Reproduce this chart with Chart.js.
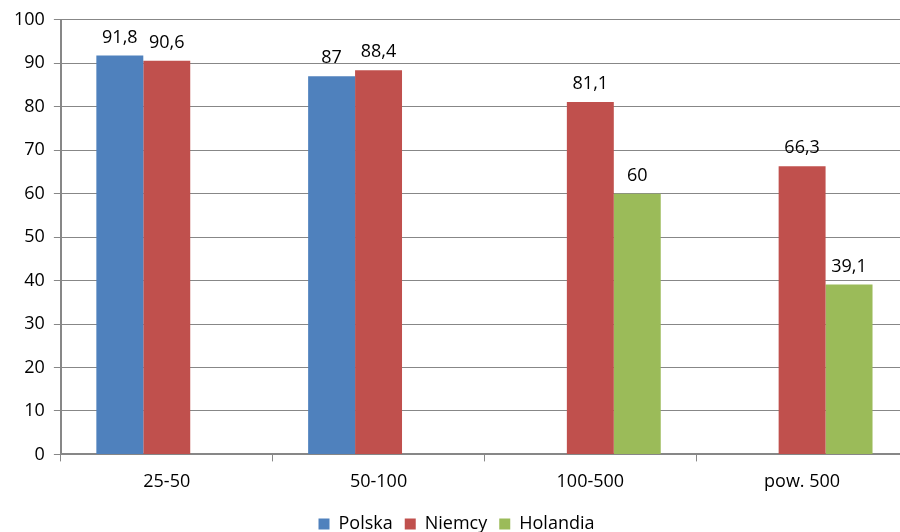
<!DOCTYPE html>
<html>
<head>
<meta charset="utf-8">
<script src="https://cdn.jsdelivr.net/npm/chart.js@4/dist/chart.umd.min.js"></script>
<style>
  html, body { margin: 0; padding: 0; background: #fff; overflow: hidden; }
  #wrap { width: 908px; height: 532px; }
</style>
</head>
<body>
<div id="wrap"><canvas id="chart"></canvas></div>
<script>
// Data
const categories = ["25-50", "50-100", "100-500", "pow. 500"];
const polska = [91.8, 87, null, null];
const niemcy = [90.6, 88.4, 81.1, 66.3];
const holandia = [null, null, 60, 39.1];
const yTicks = [0, 10, 20, 30, 40, 50, 60, 70, 80, 90, 100];

const FONT = "'Open Sans', 'Noto Sans', sans-serif";
const AXIS_GREY = "#878787";

// Draw value labels above each bar
const valueLabels = {
    id: "valueLabels",
    afterDatasetsDraw(chart) {
        const ctx = chart.ctx;
        ctx.save();
        ctx.font = "18px " + FONT;
        ctx.fillStyle = "#000";
        ctx.textAlign = "center";
        ctx.textBaseline = "bottom";
        chart.data.datasets.forEach((ds, i) => {
            const meta = chart.getDatasetMeta(i);
            meta.data.forEach((bar, j) => {
                const v = ds.data[j];
                if (v === null || v === undefined) return;
                ctx.fillText(String(v).replace(".", ","), bar.x, bar.y - 9);
            });
        });
        ctx.restore();
    },
};

new Chart(document.getElementById("chart"), {
    type: "bar",
    data: {
        labels: categories,
        datasets: [
            { label: "Polska", data: polska, backgroundColor: "#4F81BD" },
            { label: "Niemcy", data: niemcy, backgroundColor: "#C0504D" },
            { label: "Holandia", data: holandia, backgroundColor: "#9BBB59" },
        ],
    },
    options: {
        responsive: true,
        maintainAspectRatio: false,
        animation: false,
        layout: { padding: { top: 18, right: 0, left: 5, bottom: -11 } },
        datasets: {
            bar: { categoryPercentage: 0.665, barPercentage: 1.0 },
        },
        plugins: {
            legend: {
                position: "bottom",
                labels: {
                    color: "#000",
                    font: { family: FONT, size: 18 },
                    boxWidth: 11,
                    boxHeight: 11,
                    padding: 12,
                },
            },
            tooltip: { enabled: false },
        },
        scales: {
            x: {
                grid: {
                    display: true,
                    drawOnChartArea: false,
                    color: AXIS_GREY,
                    tickLength: 7,
                },
                border: { color: AXIS_GREY, width: 2 },
                ticks: { color: "#000", font: { family: FONT, size: 18 }, padding: 10 },
            },
            y: {
                min: 0,
                max: 100,
                afterBuildTicks(scale) {
                    scale.ticks = yTicks.map((v) => ({ value: v }));
                },
                grid: { color: AXIS_GREY, tickLength: 7 },
                border: { color: AXIS_GREY, width: 2 },
                ticks: { color: "#000", font: { family: FONT, size: 18 }, padding: 9 },
            },
        },
    },
    plugins: [valueLabels],
});
</script>
</body>
</html>
